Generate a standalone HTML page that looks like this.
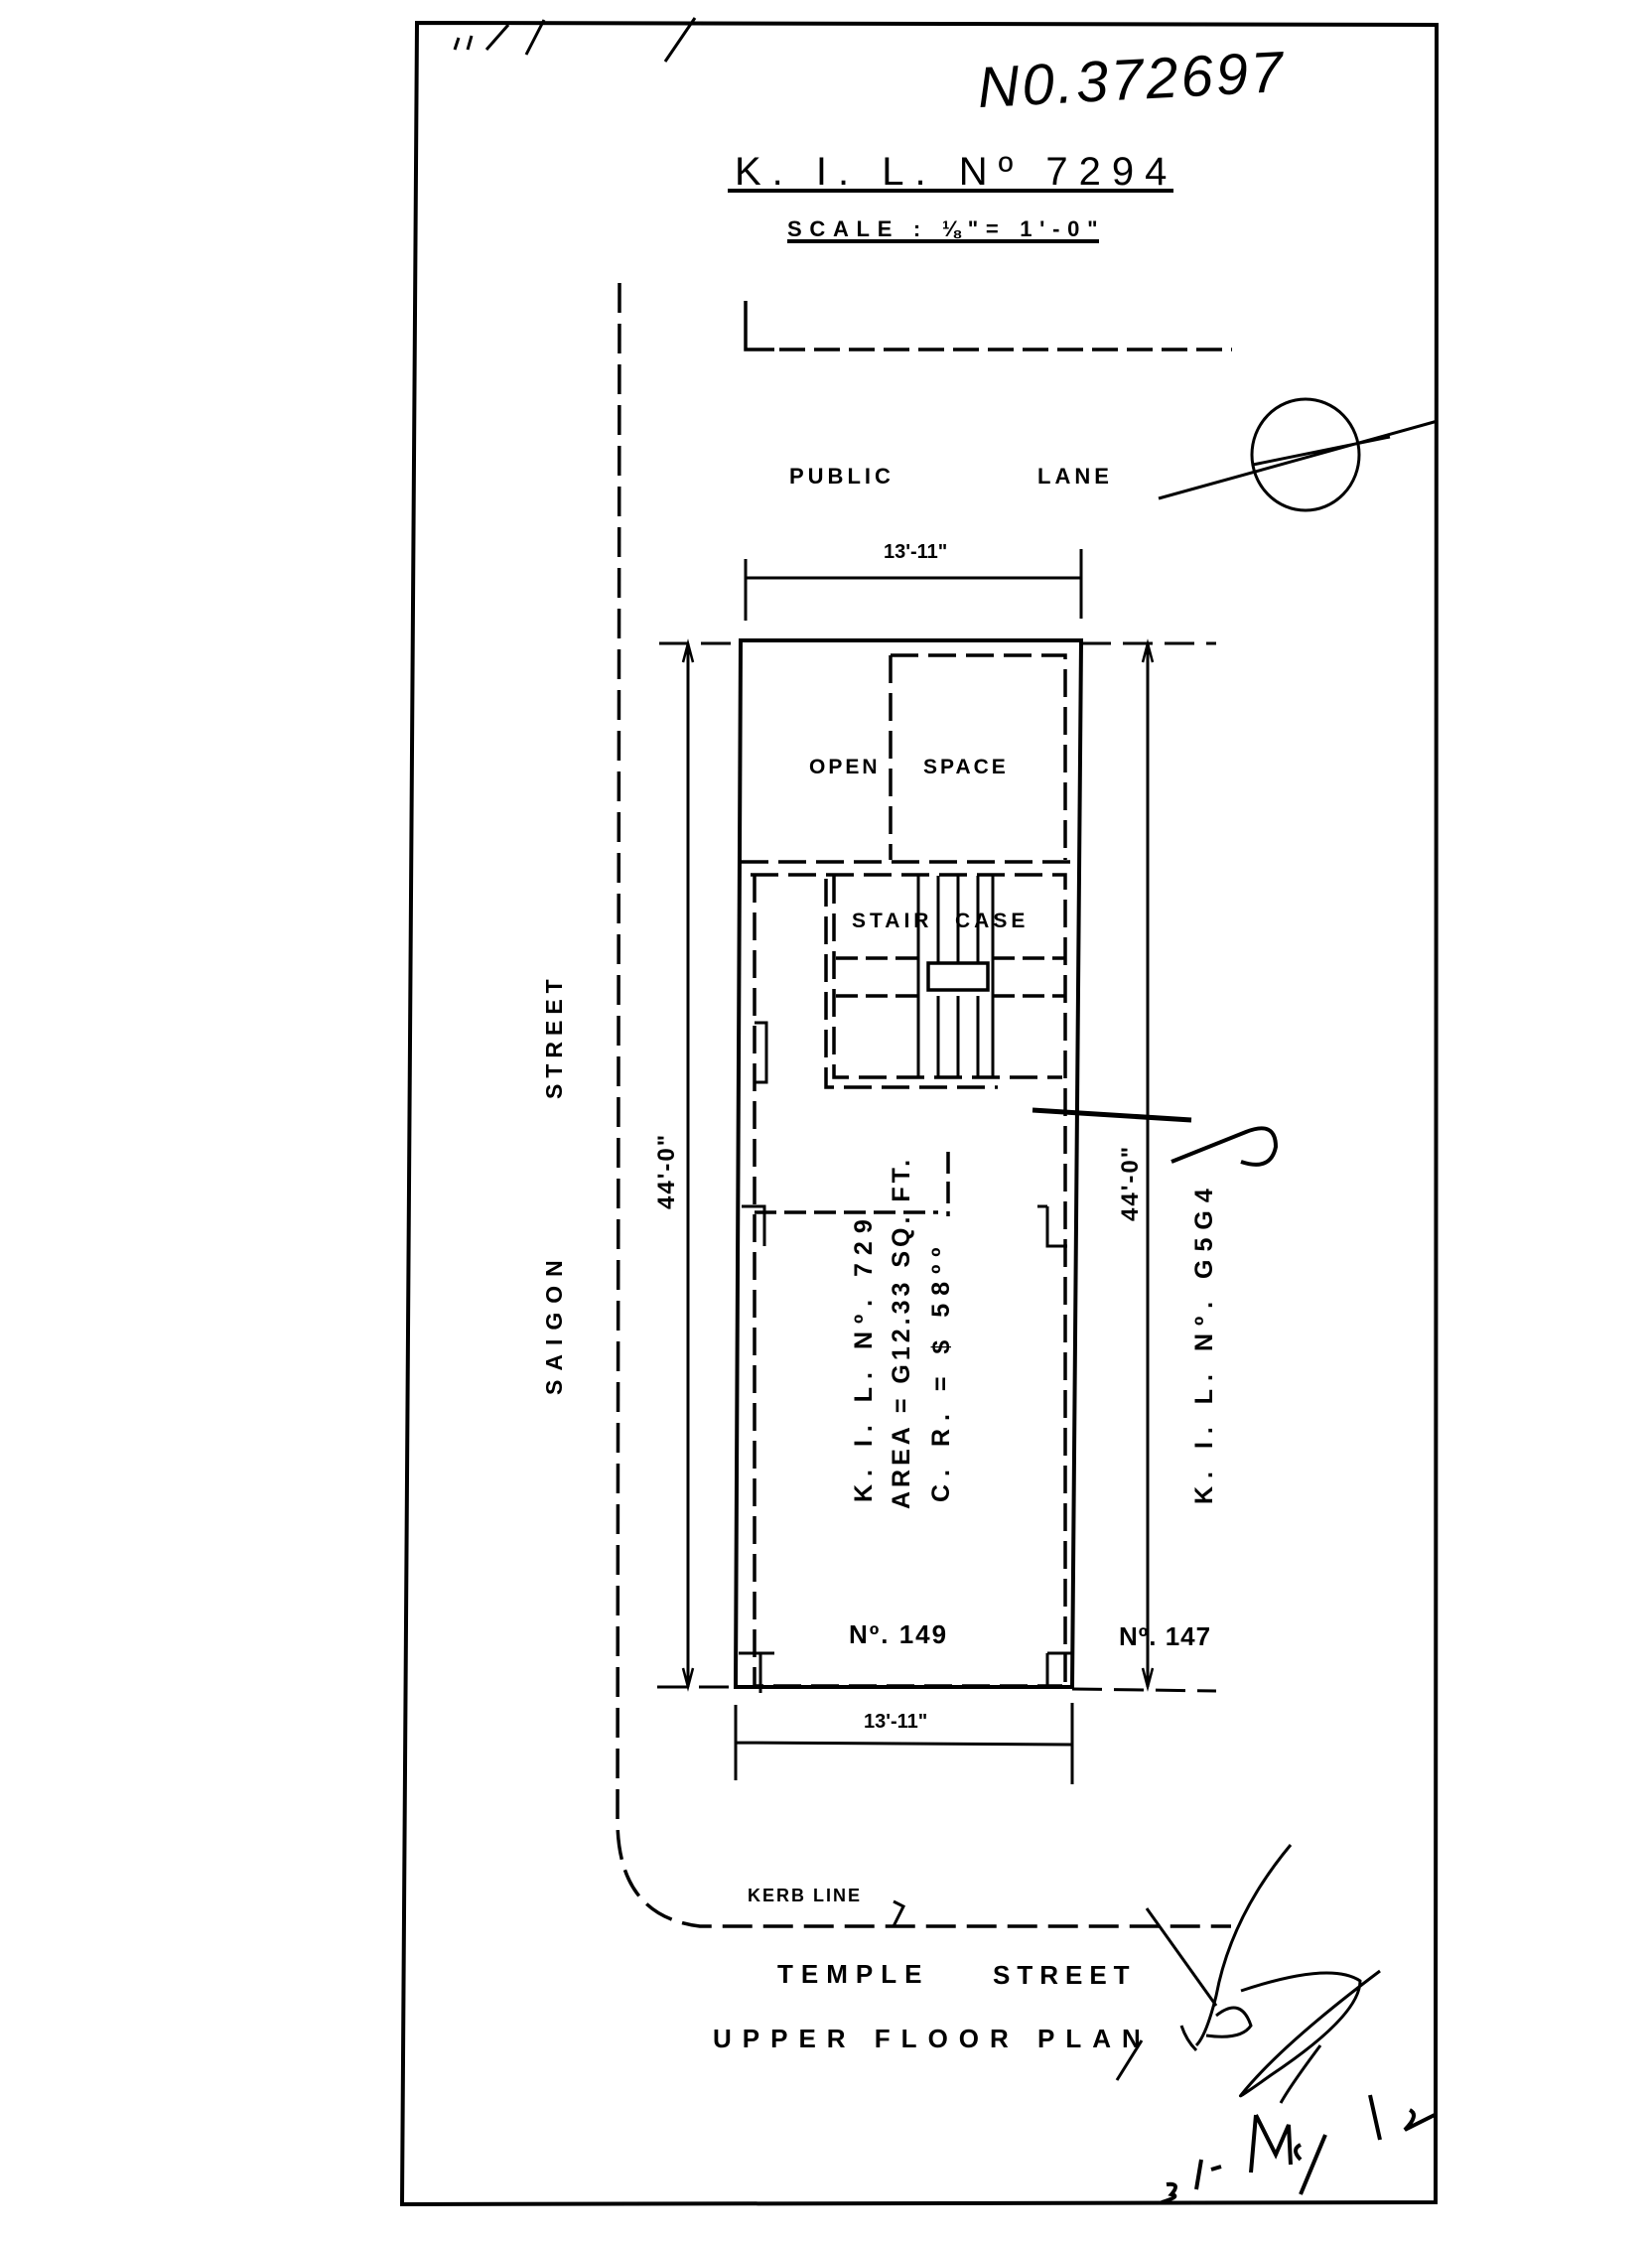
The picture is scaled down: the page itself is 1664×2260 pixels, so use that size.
<!DOCTYPE html>
<html><head><meta charset="utf-8"><style>
html,body{margin:0;padding:0;background:#fff}
svg{display:block}
text{font-family:"Liberation Sans",sans-serif;font-weight:bold;fill:#000}
</style></head><body>
<svg width="1664" height="2260" viewBox="0 0 1664 2260" xmlns="http://www.w3.org/2000/svg">
<g stroke="#000" fill="none" stroke-linecap="butt">
<path d="M420 23 L1447 25 L1446 2218 L405 2220 Z" stroke-width="4"/>
<path d="M462 38 L458 50 M475 36 L471 50 M512 25 L490 50 M548 20 L530 55 M700 18 L670 62" stroke-width="3"/>
<path d="M624 285 L622 1833 Q622 1930 705 1940 L1240 1940" stroke-width="3.5" stroke-dasharray="30,11"/>
<path d="M751 303 L751 352 L780 352" stroke-width="3.5"/>
<path d="M785 352 L1241 352" stroke-width="3.5" stroke-dasharray="26,9"/>
<ellipse cx="1315" cy="458" rx="54" ry="56" stroke-width="3"/>
<path d="M1167 502 L1448 424 M1262 468 L1400 440" stroke-width="3"/>
<path d="M751 563 L751 625 M1089 553 L1089 623 M751 582 L1089 582" stroke-width="3"/>
<path d="M746 645 L1089 645 L1080 1699 L741 1699 Z" stroke-width="4"/>
<path d="M664 648 L746 648 M1089 648 L1225 648 M662 1699 L741 1699 M1080 1701 L1225 1703" stroke-width="3" stroke-dasharray="30,12"/>
<path d="M693 648 L693 1699 M1156 648 L1156 1699" stroke-width="3"/>
<path d="M688 1680 L693 1699 L698 1680 M1151 1680 L1156 1699 L1161 1680 M688 667 L693 648 L698 667 M1151 667 L1156 648 L1161 667" stroke-width="2.5"/>
<path d="M897 660 L1073 660 L1073 866 M897 660 L897 866 M746 868 L1083 868" stroke-width="3.5" stroke-dasharray="28,10"/>
<path d="M756 881 L1073 881 L1073 1698 M760 881 L760 1698 L1070 1698" stroke-width="3.5" stroke-dasharray="28,10"/>
<path d="M840 882 L840 1085 L1070 1085 M832 885 L832 1095 L1005 1095" stroke-width="3.5" stroke-dasharray="28,10"/>
<path d="M842 965 L925 965 M842 1003 L925 1003 M1000 965 L1072 965 M1000 1003 L1072 1003" stroke-width="3.5" stroke-dasharray="22,8"/>
<path d="M925 882 L925 1085 M945 882 L945 970 M965 882 L965 970 M985 882 L985 970 M1000 882 L1000 1085 M945 1003 L945 1085 M965 1003 L965 1085 M985 1003 L985 1085" stroke-width="3"/>
<rect x="935" y="970" width="60" height="27" stroke-width="3.5"/>
<path d="M760 1221 L945 1221 M955 1160 L955 1225" stroke-width="3.5" stroke-dasharray="22,8"/>
<path d="M747 1215 L770 1215 L770 1255 M1045 1215 L1055 1215 M1055 1215 L1055 1255 L1075 1255" stroke-width="3"/>
<path d="M760 1030 L772 1030 L772 1090 L760 1090" stroke-width="3"/>
<path d="M1040 1118 L1200 1128" stroke-width="5"/>
<path d="M1180 1170 L1255 1140 Q1285 1128 1285 1155 Q1280 1180 1250 1170" stroke-width="4"/>
<path d="M766 1665 L766 1705 M744 1665 L780 1665 M1055 1665 L1055 1700 M1055 1665 L1080 1665" stroke-width="3"/>
<path d="M741 1717 L741 1793 M1080 1715 L1080 1797 M741 1755 L1080 1757" stroke-width="3"/>
<path d="M900 1915 L910 1920 L900 1940" stroke-width="3"/>
<path d="M1155 1922 L1225 2020 M1300 1858 Q1240 1930 1225 2010 Q1215 2050 1205 2060 M1225 2030 Q1250 2010 1260 2040 Q1250 2055 1215 2050 M1250 2005 Q1340 1975 1370 1995 Q1370 2030 1280 2090 Q1245 2115 1250 2110 Q1290 2060 1390 1985 M1330 2060 Q1300 2100 1290 2118" stroke-width="3"/>
<path d="M1190 2040 Q1195 2055 1205 2065 M1150 2055 L1125 2095" stroke-width="3"/>
<path d="M1175 2200 Q1190 2198 1180 2210 Q1190 2212 1170 2218 M1210 2175 L1205 2205 M1220 2185 L1230 2182 M1265 2130 L1260 2188 M1265 2130 L1285 2170 L1298 2140 L1300 2180 M1310 2160 Q1300 2165 1310 2175 M1335 2150 L1310 2210 M1380 2110 L1390 2155 M1420 2125 Q1430 2130 1415 2145 L1445 2130" stroke-width="4"/>
</g>
<text x="740" y="186" font-size="40" letter-spacing="11" style="font-weight:normal">K. I. L. Nº 7294</text>
<path d="M733 192 L1182 192" stroke="#000" stroke-width="4"/>
<text x="793" y="238" font-size="22" letter-spacing="7.7">SCALE : ⅛"= 1'-0"</text>
<path d="M793 243 L1107 243" stroke="#000" stroke-width="4"/>
<text x="985" y="100" font-size="58" font-style="italic" style="font-weight:normal" transform="rotate(-3 1140 90)" letter-spacing="3">N0.372697</text>
<text x="795" y="487" font-size="22" letter-spacing="4">PUBLIC</text>
<text x="1045" y="487" font-size="22" letter-spacing="4">LANE</text>
<text x="890" y="562" font-size="20">13'-11"</text>
<text x="815" y="779" font-size="21" letter-spacing="3">OPEN</text>
<text x="930" y="779" font-size="21" letter-spacing="3">SPACE</text>
<text x="858" y="934" font-size="21" letter-spacing="4">STAIR</text>
<text x="962" y="934" font-size="21" letter-spacing="4">CASE</text>
<text transform="translate(566,1107) rotate(-90)" font-size="23" letter-spacing="6">STREET</text>
<text transform="translate(566,1405) rotate(-90)" font-size="23" letter-spacing="9">SAIGON</text>
<text transform="translate(679,1218) rotate(-90)" font-size="24" letter-spacing="2">44'-0"</text>
<text transform="translate(1146,1230) rotate(-90)" font-size="24" letter-spacing="2">44'-0"</text>
<text transform="translate(878,1513) rotate(-90)" font-size="25" letter-spacing="8">K. I. L. Nº. 729</text>
<text transform="translate(916,1520) rotate(-90)" font-size="25" letter-spacing="4">AREA = G12.33 SQ. FT.</text>
<text transform="translate(956,1513) rotate(-90)" font-size="25" letter-spacing="8">C. R. = $ 58ºº</text>
<text transform="translate(1221,1515) rotate(-90)" font-size="25" letter-spacing="8">K. I. L. Nº. G5G4</text>
<text x="855" y="1655" font-size="26" letter-spacing="2">Nº. 149</text>
<text x="1127" y="1657" font-size="26" letter-spacing="1">Nº. 147</text>
<text x="870" y="1740" font-size="20">13'-11"</text>
<text x="753" y="1915" font-size="18" letter-spacing="2">KERB LINE</text>
<text x="783" y="1997" font-size="26" letter-spacing="8">TEMPLE</text>
<text x="1000" y="1998" font-size="26" letter-spacing="7">STREET</text>
<text x="718" y="2062" font-size="26" letter-spacing="11">UPPER  FLOOR  PLAN</text>
</svg>
</body></html>
